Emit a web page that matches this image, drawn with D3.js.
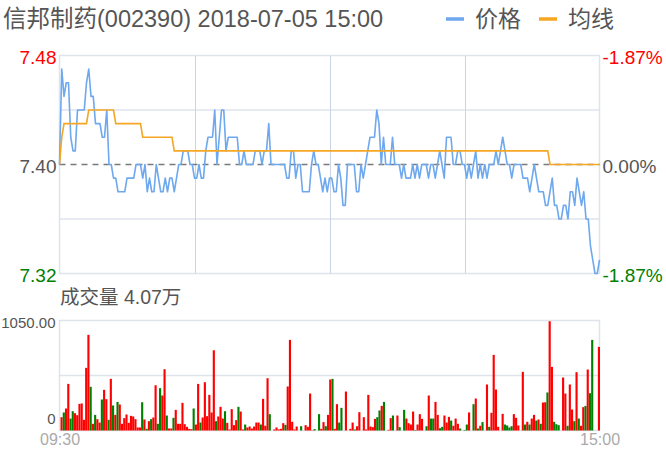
<!DOCTYPE html>
<html>
<head>
<meta charset="utf-8">
<script src="https://cdn.jsdelivr.net/npm/d3@7"></script>
<style>
html,body{margin:0;padding:0;background:#fff;}
svg{display:block;font-family:"Liberation Sans",Arial,"Noto Sans CJK SC",sans-serif;}
</style>
</head>
<body>
<svg id="c" width="666" height="457"></svg>
<script>
// ---------- data ----------
const title = "信邦制药(002390) 2018-07-05 15:00";
const seriesNames = ["价格", "均线"];
const volumeTitle = "成交量 4.07万";
const timeLabels = ["09:30", "15:00"];
const priceTicks = [7.48, 7.40, 7.32];
const priceTickLabels = ["7.48", "7.40", "7.32"];
const pctTickLabels = ["-1.87%", "0.00%", "-1.87%"];
const volumeTicks = [1050, 0];
const volumeTickLabels = ["1050.00", "0"];
const preClose = 7.40;

const price = [
7.40,7.47,7.45,7.46,7.46,7.42,7.41,7.41,7.44,7.44,
7.44,7.44,7.46,7.47,7.45,7.45,7.43,7.43,7.43,7.42,
7.42,7.44,7.40,7.40,7.39,7.39,7.38,7.38,7.38,7.38,
7.39,7.39,7.39,7.39,7.40,7.40,7.40,7.39,7.40,7.38,
7.39,7.38,7.38,7.40,7.39,7.38,7.38,7.39,7.38,7.39,
7.39,7.38,7.39,7.40,7.40,7.41,7.41,7.41,7.40,7.40,
7.39,7.39,7.40,7.39,7.39,7.41,7.42,7.42,7.42,7.44,
7.40,7.42,7.44,7.44,7.41,7.42,7.42,7.42,7.42,7.42,
7.40,7.40,7.41,7.40,7.40,7.40,7.40,7.41,7.41,7.41,
7.40,7.41,7.41,7.43,7.40,7.40,7.40,7.40,7.40,7.40,
7.40,7.39,7.39,7.41,7.41,7.39,7.40,7.40,7.38,7.38,
7.38,7.38,7.40,7.41,7.40,7.40,7.39,7.38,7.39,7.38,
7.39,7.39,7.38,7.38,7.40,7.39,7.37,7.37,7.40,7.40,
7.40,7.40,7.38,7.38,7.40,7.39,7.40,7.41,7.42,7.42,
7.42,7.44,7.43,7.40,7.42,7.40,7.40,7.40,7.42,7.40,
7.40,7.40,7.39,7.40,7.39,7.39,7.39,7.40,7.39,7.40,
7.39,7.40,7.40,7.40,7.39,7.40,7.40,7.39,7.40,7.41,
7.40,7.39,7.42,7.42,7.42,7.40,7.40,7.41,7.41,7.40,
7.40,7.39,7.40,7.39,7.40,7.41,7.39,7.40,7.39,7.40,
7.39,7.40,7.40,7.40,7.41,7.40,7.41,7.42,7.41,7.40,
7.40,7.39,7.40,7.40,7.40,7.40,7.39,7.39,7.39,7.38,
7.39,7.40,7.39,7.38,7.38,7.38,7.37,7.37,7.38,7.39,
7.37,7.37,7.36,7.36,7.37,7.37,7.36,7.38,7.38,7.37,
7.39,7.38,7.37,7.38,7.36,7.36,7.34,7.33,7.32,7.32,
7.33];

const avgPrice = [
7.40,7.42,7.43,7.43,7.43,7.43,7.43,7.43,7.43,7.43,
7.43,7.43,7.43,7.44,7.44,7.44,7.44,7.44,7.44,7.44,
7.44,7.44,7.44,7.44,7.44,7.43,7.43,7.43,7.43,7.43,
7.43,7.43,7.43,7.43,7.43,7.43,7.43,7.42,7.42,7.42,
7.42,7.42,7.42,7.42,7.42,7.42,7.42,7.42,7.42,7.42,
7.42,7.41,7.41,7.41,7.41,7.41,7.41,7.41,7.41,7.41,
7.41,7.41,7.41,7.41,7.41,7.41,7.41,7.41,7.41,7.41,
7.41,7.41,7.41,7.41,7.41,7.41,7.41,7.41,7.41,7.41,
7.41,7.41,7.41,7.41,7.41,7.41,7.41,7.41,7.41,7.41,
7.41,7.41,7.41,7.41,7.41,7.41,7.41,7.41,7.41,7.41,
7.41,7.41,7.41,7.41,7.41,7.41,7.41,7.41,7.41,7.41,
7.41,7.41,7.41,7.41,7.41,7.41,7.41,7.41,7.41,7.41,
7.41,7.41,7.41,7.41,7.41,7.41,7.41,7.41,7.41,7.41,
7.41,7.41,7.41,7.41,7.41,7.41,7.41,7.41,7.41,7.41,
7.41,7.41,7.41,7.41,7.41,7.41,7.41,7.41,7.41,7.41,
7.41,7.41,7.41,7.41,7.41,7.41,7.41,7.41,7.41,7.41,
7.41,7.41,7.41,7.41,7.41,7.41,7.41,7.41,7.41,7.41,
7.41,7.41,7.41,7.41,7.41,7.41,7.41,7.41,7.41,7.41,
7.41,7.41,7.41,7.41,7.41,7.41,7.41,7.41,7.41,7.41,
7.41,7.41,7.41,7.41,7.41,7.41,7.41,7.41,7.41,7.41,
7.41,7.41,7.41,7.41,7.41,7.41,7.41,7.41,7.41,7.41,
7.41,7.41,7.41,7.41,7.41,7.41,7.41,7.41,7.40,7.40,
7.40,7.40,7.40,7.40,7.40,7.40,7.40,7.40,7.40,7.40,
7.40,7.40,7.40,7.40,7.40,7.40,7.40,7.40,7.40,7.40,
7.40];

const volume = [
127,172,210,445,114,184,165,146,254,258,
102,598,913,417,64,149,108,76,296,388,
299,102,493,239,149,273,248,64,118,153,
73,140,134,108,29,29,270,105,16,89,
108,124,432,64,404,334,585,143,19,19,
121,197,64,64,264,60,35,16,13,210,
57,445,76,124,461,137,340,172,766,89,
134,226,114,184,73,10,204,51,99,226,
181,10,57,29,38,19,38,76,76,57,
302,45,499,156,0,10,29,10,16,70,
54,420,865,83,10,38,0,41,0,51,
35,353,3,13,0,156,16,80,41,149,
487,493,16,251,76,216,0,372,0,16,
76,10,41,175,0,127,10,340,38,32,
111,127,191,235,273,0,6,118,143,0,
143,32,0,197,114,70,57,181,5,57,
156,111,0,41,334,114,114,273,149,22,
35,143,76,130,95,45,114,64,19,0,
5,57,172,0,251,305,19,45,80,0,
439,35,169,722,391,35,0,159,57,48,
29,41,156,121,48,0,560,57,83,57,
114,149,95,105,64,267,270,363,1043,607,
83,60,51,0,506,353,45,439,200,89,
557,114,45,223,235,582,356,865,0,0,
798];

// 1 = up (red), 0 = down (green)
const volumeUp = [
1,0,1,1,0,0,1,1,1,1,
1,1,1,0,1,0,1,1,0,1,
1,0,1,0,1,0,1,1,1,1,
1,1,1,1,1,1,0,1,0,1,
0,1,1,0,0,1,1,0,1,1,
0,1,1,1,1,1,1,1,1,0,
1,1,0,1,1,1,1,1,1,0,
1,1,1,0,1,1,1,1,1,0,
1,1,0,1,1,1,1,1,1,0,
1,1,1,0,1,1,1,1,1,1,
0,1,1,1,1,1,1,0,1,1,
1,1,1,0,1,0,1,1,0,1,
1,0,1,1,0,0,1,1,1,1,
1,0,1,1,1,1,1,1,1,1,
1,0,0,1,0,1,1,1,0,1,
1,0,1,0,1,1,1,1,0,1,
1,1,1,0,1,0,0,1,1,0,
0,1,1,1,0,1,1,1,0,1,
0,0,1,1,0,1,0,1,0,1,
1,0,1,1,1,1,1,1,0,0,
0,0,1,1,1,1,1,0,1,0,
1,1,0,1,0,1,1,0,1,1,
0,0,0,1,1,1,0,1,1,0,
1,0,1,1,0,1,0,0,1,1,
1];

// ---------- layout ----------
const svg = d3.select("#c");
const L = 59.5, R = 599.5;
const pTop = 55.5, pBot = 273.5;
const vTop = 320.5, vBot = 430.5;

const idx = d3.range(price.length);
const x = d3.scaleLinear().domain([0, price.length - 1]).range([L, R]);
const y = d3.scaleLinear().domain([7.32, 7.48]).range([pBot, pTop]);
const xb = d3.scaleBand().domain(idx).range([60.5, 600]).paddingInner(0.05);
const yv = d3.scaleLinear().domain([0, 1050]).range([vBot, vTop]);

const gridCol = "#dfe3eb";
const vgridCol = "#cbd4e2";

// price panel frame + grid
svg.append("rect").attr("x", L).attr("y", pTop).attr("width", R - L).attr("height", pBot - pTop)
  .attr("fill", "none").attr("stroke", gridCol).attr("stroke-width", 1.5);
[7.44, 7.36].forEach(v => {
  svg.append("line").attr("x1", L).attr("x2", R).attr("y1", y(v)).attr("y2", y(v))
    .attr("stroke", gridCol).attr("stroke-width", 1.5);
});
[60, 120, 180].forEach(i => {
  svg.append("line").attr("x1", Math.round(x(i)) + 0.5).attr("x2", Math.round(x(i)) + 0.5)
    .attr("y1", pTop).attr("y2", pBot).attr("stroke", vgridCol).attr("stroke-width", 1);
});
svg.append("line").attr("x1", L).attr("x2", R).attr("y1", y(preClose)).attr("y2", y(preClose))
  .attr("stroke", "#7a7a7a").attr("stroke-width", 1.6).attr("stroke-dasharray", "6,5");

// lines
const line = d3.line().x((d, i) => x(i)).y(d => y(d));
svg.append("path").datum(price).attr("d", line).attr("fill", "none")
  .attr("stroke", "#6ea8ee").attr("stroke-width", 1.6).attr("stroke-linejoin", "round");
svg.append("path").datum(avgPrice).attr("d", line).attr("fill", "none")
  .attr("stroke", "#f6a623").attr("stroke-width", 1.6);

// price axes
const leftCols = ["#ff0000", "#555555", "#008000"];
const rightCols = ["#ff0000", "#555555", "#008000"];
const axL = svg.append("g").attr("transform", `translate(${L - 3},2)`)
  .call(d3.axisLeft(y).tickValues(priceTicks).tickSize(0).tickPadding(0)
    .tickFormat((d, i) => priceTickLabels[i]));
axL.select(".domain").remove();
axL.selectAll("text").attr("font-size", 19).attr("font-family", "Liberation Sans, Arial")
  .attr("fill", (d, i) => leftCols[i]);
const axR = svg.append("g").attr("transform", `translate(${R + 3},2)`)
  .call(d3.axisRight(y).tickValues(priceTicks).tickSize(0).tickPadding(0)
    .tickFormat((d, i) => pctTickLabels[i]));
axR.select(".domain").remove();
axR.selectAll("text").attr("font-size", 19).attr("font-family", "Liberation Sans, Arial")
  .attr("fill", (d, i) => rightCols[i]);

// title and legend
svg.append("text").attr("x", 3).attr("y", 27).attr("font-size", 23.5).attr("fill", "#555")
  .text(title);
const legCols = ["#6ea8ee", "#f6a623"];
const legX = [446, 539];
seriesNames.forEach((n, i) => {
  svg.append("line").attr("x1", legX[i]).attr("x2", legX[i] + 18).attr("y1", 19).attr("y2", 19)
    .attr("stroke", legCols[i]).attr("stroke-width", 3.5);
  svg.append("text").attr("x", legX[i] + 29).attr("y", 27).attr("font-size", 23)
    .attr("fill", "#555").text(n);
});

// volume panel
svg.append("text").attr("x", 60).attr("y", 304).attr("font-size", 19.5).attr("fill", "#555")
  .text(volumeTitle);
svg.append("rect").attr("x", L).attr("y", vTop).attr("width", R - L).attr("height", vBot - vTop)
  .attr("fill", "none").attr("stroke", gridCol).attr("stroke-width", 1.5);
svg.append("line").attr("x1", L).attr("x2", R).attr("y1", yv(525)).attr("y2", yv(525))
  .attr("stroke", gridCol).attr("stroke-width", 1.5);

svg.append("g").selectAll("rect").data(volume).join("rect")
  .attr("x", (d, i) => xb(i)).attr("width", xb.bandwidth())
  .attr("y", d => yv(d)).attr("height", d => yv(0) - yv(d))
  .attr("fill", (d, i) => volumeUp[i] ? "#ff0000" : "#008000");

const axV = svg.append("g").attr("transform", `translate(${L - 4},0)`)
  .call(d3.axisLeft(yv).tickValues(volumeTicks).tickSize(0).tickPadding(0)
    .tickFormat((d, i) => volumeTickLabels[i]));
axV.select(".domain").remove();
axV.selectAll("text").attr("font-size", 15).attr("font-family", "Liberation Sans, Arial")
  .attr("fill", "#555").attr("dy", (d, i) => i === 0 ? "0.45em" : "-0.45em");

// time axis
const axT = svg.append("g").attr("transform", `translate(0,${vBot + 3})`)
  .call(d3.axisBottom(x).tickValues([0, price.length - 1]).tickSize(0).tickPadding(0)
    .tickFormat((d, i) => timeLabels[i]));
axT.select(".domain").remove();
axT.selectAll("text").attr("font-size", 16).attr("font-family", "Liberation Sans, Arial")
  .attr("fill", "#aaaaaa");
</script>
</body>
</html>
